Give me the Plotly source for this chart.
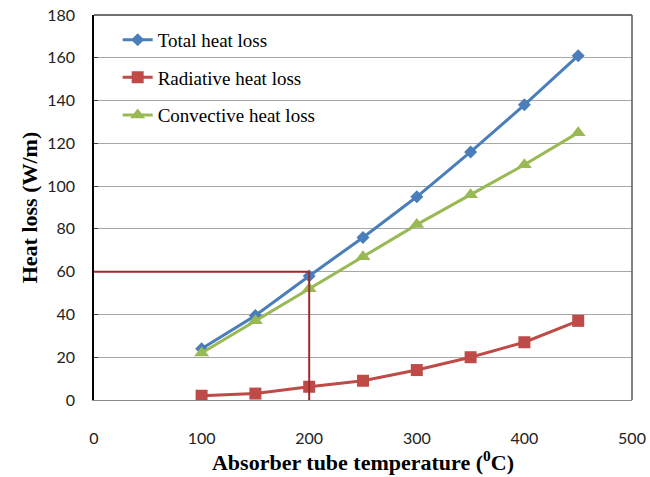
import plotly.graph_objects as go

temps = [100, 150, 200, 250, 300, 350, 400, 450]
total_loss = [24, 39.5, 58, 76, 95, 116, 138, 161]
radiative_loss = [2, 3, 6.2, 9, 14, 20, 27, 37]
convective_loss = [22, 37, 52, 67, 82, 96, 110, 125]
ref_temp = 200
ref_loss = 60

x_ticks = [0, 100, 200, 300, 400, 500]
y_ticks = [0, 20, 40, 60, 80, 100, 120, 140, 160, 180]

fig = go.Figure()
fig.add_trace(go.Scatter(x=temps, y=total_loss, name="Total heat loss", mode="lines+markers",
                         line=dict(color="#4A7EBB", width=3),
                         marker=dict(symbol="diamond", size=10, color="#4A7EBB"),
                         legendgroup="a"))
fig.add_trace(go.Scatter(x=temps, y=radiative_loss, name="Radiative heat loss", mode="lines+markers",
                         line=dict(color="#BE4B48", width=3),
                         marker=dict(symbol="square", size=12, color="#BE4B48"),
                         legendgroup="b"))
fig.add_trace(go.Scatter(x=temps, y=convective_loss, name="Convective heat loss", mode="lines+markers",
                         line=dict(color="#98B954", width=3),
                         marker=dict(symbol="triangle-up", size=13, color="#98B954"),
                         legendgroup="c"))

ref_color = "#9B2A2D"
fig.add_shape(type="line", xref="x", yref="y", x0=-3, x1=ref_temp, y0=ref_loss, y1=ref_loss,
              line=dict(color=ref_color, width=2))
fig.add_shape(type="line", xref="x", yref="y", x0=ref_temp, x1=ref_temp, y0=0, y1=ref_loss,
              line=dict(color=ref_color, width=2))

tick_font = dict(family="Lato, Open Sans, sans-serif", size=16, color="#222222")
title_font = dict(family="Liberation Serif, Times New Roman, serif", size=22, color="#000000")

fig.update_layout(
    width=650, height=477,
    margin=dict(l=94, r=18, t=15, b=77),
    paper_bgcolor="white", plot_bgcolor="white",
    showlegend=True,
    legend=dict(x=0.044, y=0.985, xanchor="left", yanchor="top",
                bgcolor="rgba(0,0,0,0)", borderwidth=0,
                traceorder="grouped", tracegroupgap=10,
                font=dict(family="Liberation Serif, Times New Roman, serif", size=19, color="#000")),
    xaxis=dict(range=[0, 500], tickvals=x_ticks, showgrid=False, zeroline=False, automargin=False,
               showline=True, linecolor="#8C8C8C", linewidth=1, mirror=False,
               ticks="", tickfont=tick_font, ticklabelstandoff=24,
               title=dict(text="<b>Absorber tube temperature (<sup>0</sup>C)</b>", font=title_font, standoff=4)),
    yaxis=dict(range=[0, 180], tickvals=y_ticks, showgrid=True, gridcolor="#A6A6A6", gridwidth=1,
               zeroline=False, showline=True, linecolor="#000000", linewidth=1.5, automargin=False,
               ticks="inside", ticklen=4, tickcolor="#404040", tickfont=tick_font, ticklabelstandoff=14,
               title=dict(text="<b>Heat loss (W/m)</b>", font=title_font, standoff=4)),
)
# plot frame top and right
fig.add_shape(type="line", xref="paper", yref="paper", x0=0, x1=1, y0=1, y1=1,
              line=dict(color="#404040", width=1.5))
fig.add_shape(type="line", xref="paper", yref="paper", x0=1, x1=1, y0=0, y1=1,
              line=dict(color="#595959", width=1.5))

fig.write_html("out.html")
